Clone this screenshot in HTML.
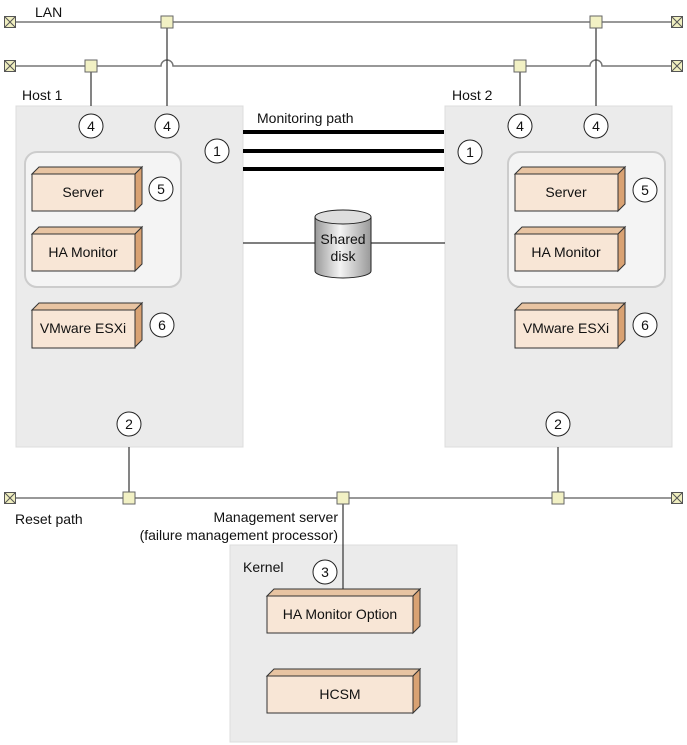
<!DOCTYPE html>
<html><head><meta charset="utf-8"><style>body{margin:0;background:#fff}svg{display:block}text{font-family:"Liberation Sans",Arial,sans-serif;font-size:14px;fill:#111}</style></head><body>
<svg width="687" height="745" viewBox="0 0 687 745">
<defs>
<linearGradient id="cyl" x1="0" x2="1"><stop offset="0" stop-color="#999"/><stop offset="0.45" stop-color="#f4f4f4"/><stop offset="1" stop-color="#999"/></linearGradient>
<g id="cx"><rect x="-5.5" y="-5.5" width="11" height="11" fill="#f0efc0" stroke="#555"/><path d="M-5.5,-5.5L5.5,5.5M5.5,-5.5L-5.5,5.5" stroke="#555"/></g>
<rect id="jn" x="-6" y="-6" width="12" height="12" fill="#f2f1c4" stroke="#666"/>
</defs>
<rect x="16" y="106" width="227" height="341" fill="#ebebeb" stroke="#ddd"/>
<rect x="445" y="106" width="227" height="341" fill="#ebebeb" stroke="#ddd"/>
<rect x="230" y="545" width="227" height="197" fill="#ebebeb" stroke="#ddd"/>
<rect x="25" y="152" width="156" height="135" rx="12" fill="#f4f4f4" stroke="#ccc" stroke-width="2"/>
<rect x="508" y="152" width="157" height="135" rx="12" fill="#f4f4f4" stroke="#ccc" stroke-width="2"/>
<g stroke="#777" stroke-width="1.5" fill="none">
<path d="M10,22H677"/>
<path d="M10,66H161a6,6 0 0 1 12,0H590a6,6 0 0 1 12,0H677"/>
<path d="M10,498H677"/>
</g>
<g stroke="#333" stroke-width="1.2">
<path d="M167,22V106M91,66V106M596,22V106M520,66V106"/>
<path d="M129,447V498M558,447V498M343,498V589"/>
<path d="M243,243H315M371,243H445"/>
</g>
<g stroke="#000" stroke-width="4"><path d="M243,132H444M243,151H444M243,169H444"/></g>
<use href="#cx" x="10" y="22"/><use href="#cx" x="677" y="22"/><use href="#cx" x="10" y="66"/><use href="#cx" x="677" y="66"/><use href="#cx" x="10" y="498"/><use href="#cx" x="677" y="498"/>
<use href="#jn" x="167" y="22"/><use href="#jn" x="596" y="22"/><use href="#jn" x="91" y="66"/><use href="#jn" x="520" y="66"/><use href="#jn" x="129" y="498"/><use href="#jn" x="343" y="498"/><use href="#jn" x="558" y="498"/>
<path d="M315,217V271A28,7 0 0 0 371,271V217" fill="url(#cyl)" stroke="#222"/>
<ellipse cx="343" cy="217" rx="28" ry="7" fill="#ddd" stroke="#222"/>
<text x="343" y="244" text-anchor="middle">Shared</text><text x="343" y="261" text-anchor="middle">disk</text>
<g stroke="#333">
<path d="M32,174l7,-7h103l-7,7z" fill="#e8c4a2"/><path d="M135,174l7,-7v37l-7,7z" fill="#d9a273"/><rect x="32" y="174" width="103" height="37" fill="#f8e6d6"/>
<path d="M32,234l7,-7h103l-7,7z" fill="#e8c4a2"/><path d="M135,234l7,-7v37l-7,7z" fill="#d9a273"/><rect x="32" y="234" width="103" height="37" fill="#f8e6d6"/>
<path d="M32,310l7,-7h103l-7,7z" fill="#e8c4a2"/><path d="M135,310l7,-7v37l-7,7z" fill="#d9a273"/><rect x="32" y="310" width="103" height="38" fill="#f8e6d6"/>
<path d="M515,174l7,-7h103l-7,7z" fill="#e8c4a2"/><path d="M618,174l7,-7v37l-7,7z" fill="#d9a273"/><rect x="515" y="174" width="103" height="37" fill="#f8e6d6"/>
<path d="M515,234l7,-7h103l-7,7z" fill="#e8c4a2"/><path d="M618,234l7,-7v37l-7,7z" fill="#d9a273"/><rect x="515" y="234" width="103" height="37" fill="#f8e6d6"/>
<path d="M515,310l7,-7h103l-7,7z" fill="#e8c4a2"/><path d="M618,310l7,-7v37l-7,7z" fill="#d9a273"/><rect x="515" y="310" width="103" height="38" fill="#f8e6d6"/>
<path d="M267,596l7,-7h146l-7,7z" fill="#e8c4a2"/><path d="M413,596l7,-7v37l-7,7z" fill="#d9a273"/><rect x="267" y="596" width="146" height="37" fill="#f8e6d6"/>
<path d="M267,676l7,-7h146l-7,7z" fill="#e8c4a2"/><path d="M413,676l7,-7v37l-7,7z" fill="#d9a273"/><rect x="267" y="676" width="146" height="37" fill="#f8e6d6"/>
</g>
<g text-anchor="middle">
<text x="83" y="197">Server</text><text x="83" y="257">HA Monitor</text><text x="83" y="333">VMware ESXi</text>
<text x="566" y="197">Server</text><text x="566" y="257">HA Monitor</text><text x="566" y="333">VMware ESXi</text>
<text x="340" y="619">HA Monitor Option</text><text x="340" y="699">HCSM</text>
</g>
<g fill="#fff" stroke="#222">
<circle cx="91" cy="126" r="12"/><circle cx="167" cy="126" r="12"/><circle cx="217" cy="151" r="12"/><circle cx="161" cy="189" r="12"/><circle cx="162" cy="325" r="12"/><circle cx="129" cy="424" r="12"/>
<circle cx="520" cy="126" r="12"/><circle cx="596" cy="126" r="12"/><circle cx="470" cy="152" r="12"/><circle cx="645" cy="190" r="12"/><circle cx="645" cy="325" r="12"/><circle cx="558" cy="424" r="12"/>
<circle cx="325" cy="572" r="12"/>
</g>
<g text-anchor="middle">
<text x="91" y="131">4</text><text x="167" y="131">4</text><text x="217" y="156">1</text><text x="161" y="194">5</text><text x="162" y="330">6</text><text x="129" y="429">2</text>
<text x="520" y="131">4</text><text x="596" y="131">4</text><text x="470" y="157">1</text><text x="645" y="195">5</text><text x="645" y="330">6</text><text x="558" y="429">2</text>
<text x="325" y="577">3</text>
</g>
<text x="35" y="17">LAN</text>
<text x="22" y="100">Host 1</text>
<text x="452" y="100">Host 2</text>
<text x="257" y="123">Monitoring path</text>
<text x="15" y="524">Reset path</text>
<text x="338" y="522" text-anchor="end">Management server</text>
<text x="338" y="540" text-anchor="end">(failure management processor)</text>
<text x="243" y="572">Kernel</text>
</svg>
</body></html>
